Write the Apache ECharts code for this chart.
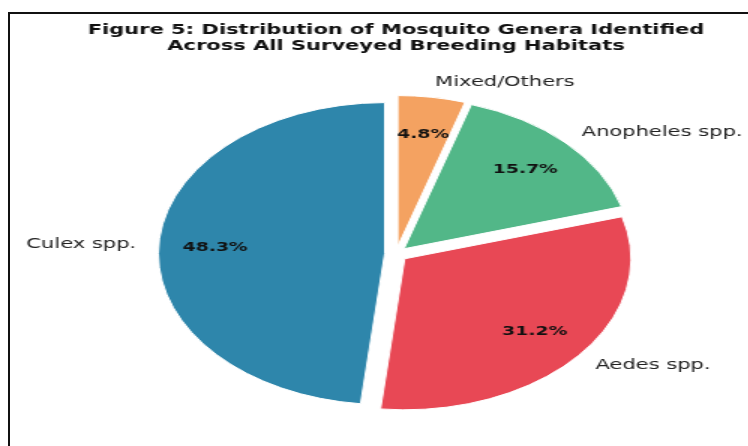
<!DOCTYPE html>
<html><head><meta charset="utf-8">
<script src="https://cdn.jsdelivr.net/npm/echarts@6/dist/echarts.min.js"></script>
<style>
html,body{margin:0;padding:0;background:#fff;overflow:hidden;width:748px;height:446px;}
#frame{position:absolute;left:8px;top:12px;width:900px;height:600px;border:2px solid #111;box-sizing:border-box;}
#chart{position:absolute;left:0;top:0;width:560px;height:446px;transform:scaleX(1.5);transform-origin:0 0;}
</style></head>
<body><div id="frame"></div><div id="chart"></div>
<script>
const titleLines = ['Figure 5: Distribution of Mosquito Genera Identified', 'Across All Surveyed Breeding Habitats'];
const categories = ['Culex spp.', 'Aedes spp.', 'Anopheles spp.', 'Mixed/Others'];
const shares = [48.3, 31.2, 15.7, 4.8];
const colors = ['#2E86AB', '#E84855', '#52B788', '#F4A261'];

const chart = echarts.init(document.getElementById('chart'), null, {renderer: 'canvas'});
const center = [264, 254];
const R = 151;
const offset = 7.5;
const font = 'DejaVu Sans';

const sliceData = categories.map((n, i) => ({name: n, value: shares[i], selected: true, itemStyle: {color: colors[i]}}));
const pctData = categories.map((n, i) => ({name: n, value: shares[i], selected: true}));

chart.setOption({
  backgroundColor: 'transparent',
  animation: false,
  title: {
    text: titleLines.join('\n'),
    left: 264, top: 22, padding: 0, textAlign: 'center',
    textStyle: {fontFamily: font, fontWeight: 'bold', fontSize: 14, lineHeight: 16, color: '#111'}
  },
  series: [
    {
      type: 'pie', center: center, radius: R, startAngle: 90, clockwise: false,
      selectedMode: 'multiple', selectedOffset: offset, avoidLabelOverlap: false,
      emphasis: {disabled: true}, silent: true,
      itemStyle: {borderColor: '#fff', borderWidth: 1},
      label: {show: true, position: 'outside', fontFamily: font, fontSize: 14, color: '#222', distanceToLabelLine: 0, offset: [0, 3]},
      labelLine: {show: false, length: 15, length2: 0},
      data: sliceData
    },
    {
      type: 'pie', center: center, radius: 220.5, startAngle: 90, clockwise: false,
      selectedMode: 'multiple', selectedOffset: offset, avoidLabelOverlap: false,
      emphasis: {disabled: true}, silent: true,
      itemStyle: {color: 'rgba(0,0,0,0)', borderWidth: 0},
      label: {show: true, position: 'inside', fontFamily: font, fontWeight: 'bold', fontSize: 12.5, color: '#111', offset: [0, 2],
        formatter: p => p.value.toFixed(1) + '%'},
      labelLine: {show: false},
      data: pctData
    }
  ]
});
</script>
</body></html>
